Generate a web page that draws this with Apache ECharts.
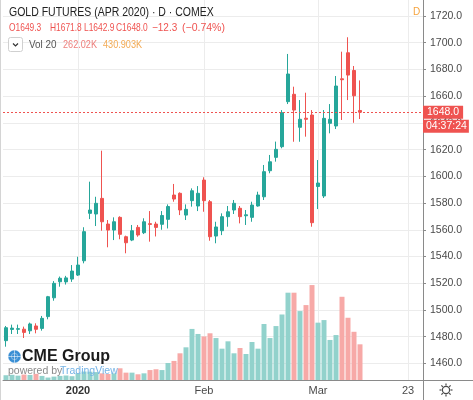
<!DOCTYPE html>
<html>
<head>
<meta charset="utf-8">
<script src="https://cdn.jsdelivr.net/npm/echarts@6/dist/echarts.min.js"></script>
<style>
  html, body { margin: 0; padding: 0; background: #fff; }
  #chart { width: 473px; height: 400px; }
</style>
</head>
<body>
<div id="chart"></div>
<script>
// trading days shown (last 10 are empty future slots)
const dates = [
  '2019-12-13','2019-12-16','2019-12-17','2019-12-18','2019-12-19','2019-12-20','2019-12-23','2019-12-24','2019-12-26','2019-12-27','2019-12-30','2019-12-31',
  '2020-01-02','2020-01-03','2020-01-06','2020-01-07','2020-01-08','2020-01-09','2020-01-10','2020-01-13','2020-01-14','2020-01-15','2020-01-16','2020-01-17',
  '2020-01-21','2020-01-22','2020-01-23','2020-01-24','2020-01-27','2020-01-28','2020-01-29','2020-01-30','2020-01-31',
  '2020-02-03','2020-02-04','2020-02-05','2020-02-06','2020-02-07','2020-02-10','2020-02-11','2020-02-12','2020-02-13','2020-02-14',
  '2020-02-18','2020-02-19','2020-02-20','2020-02-21','2020-02-24','2020-02-25','2020-02-26','2020-02-27','2020-02-28',
  '2020-03-02','2020-03-03','2020-03-04','2020-03-05','2020-03-06','2020-03-09','2020-03-10','2020-03-11',
  '2020-03-12','2020-03-13','2020-03-16','2020-03-17','2020-03-18','2020-03-19','2020-03-20','2020-03-23','2020-03-24','2020-03-25'
];

const open = [
  1477.0,1485.4,1485.5,1485.6,1484.4,1488.0,1486.2,1495.0,1509.1,1521.1,1521.0,1523.1,
  1526.1,1536.8,1572.3,1571.8,1583.5,1564.3,1559.8,1569.3,1554.8,1552.3,1561.8,1557.8,
  1564.6,1564.3,1564.1,1567.8,1586.0,1587.3,1571.0,1581.8,1577.8,
  1597.2,1581.0,1555.3,1559.3,1569.8,1574.8,1576.1,1570.5,1569.3,1577.8,
  1584.7,1604.2,1614.2,1622.2,1655.9,1661.4,1636.7,1643.5,1645.9,
  1592.4,1585.3,1639.7,1637.7,1673.0,1692.5,1679.2,1649.3
];
const high = [
  1488.0,1489.0,1489.0,1487.5,1490.5,1490.0,1495.5,1510.5,1521.6,1525.0,1525.5,1533.6,
  1539.8,1561.9,1596.0,1584.7,1619.2,1567.3,1569.3,1570.1,1555.6,1563.6,1563.6,1568.6,
  1574.0,1566.0,1574.0,1579.0,1594.3,1588.0,1579.0,1591.0,1592.7,
  1599.3,1582.3,1566.0,1572.3,1577.8,1582.3,1577.8,1574.8,1581.0,1588.5,
  1608.5,1616.0,1626.0,1649.6,1691.6,1667.1,1657.1,1662.6,1649.6,
  1612.2,1649.6,1654.1,1675.1,1693.3,1704.1,1682.6,1671.8
];
const low = [
  1472.5,1482.0,1482.0,1479.0,1482.0,1482.5,1484.5,1493.0,1506.9,1517.4,1519.0,1521.0,
  1525.4,1534.9,1568.0,1562.8,1559.3,1546.9,1552.3,1552.9,1542.4,1551.5,1554.8,1556.8,
  1551.1,1555.0,1560.0,1561.0,1581.0,1571.0,1567.3,1577.3,1574.0,
  1573.5,1551.8,1549.9,1556.0,1562.3,1571.8,1564.8,1563.6,1566.0,1577.3,
  1582.3,1602.3,1611.0,1621.0,1654.1,1625.9,1625.9,1629.7,1562.3,
  1575.5,1583.8,1632.2,1635.4,1642.2,1657.1,1640.1,1642.9
];
const close = [
  1486.7,1486.4,1486.0,1483.2,1489.5,1485.5,1493.7,1509.9,1519.9,1523.7,1524.0,1529.1,
  1533.6,1558.6,1574.8,1579.8,1566.0,1559.8,1566.0,1556.6,1550.3,1559.3,1556.1,1566.0,
  1564.0,1561.8,1570.7,1577.4,1583.0,1574.8,1575.3,1589.2,1587.3,
  1581.8,1554.8,1562.1,1569.8,1573.5,1579.8,1569.8,1571.2,1578.5,1586.0,
  1603.5,1610.9,1620.2,1647.6,1676.6,1649.6,1642.7,1642.7,1565.3,
  1595.0,1643.4,1642.7,1667.6,1672.3,1675.8,1660.3,1648.0
];
// volume, thousands of contracts
const volume = [
  35,38,32,40,37,45,30,18,25,30,33,28,
  50,62,61,58,49,44,49,86,54,54,42,49,
  73,79,73,125,140,196,240,375,338,
  320,343,308,230,284,196,235,191,279,230,
  411,308,396,481,641,641,506,550,697,
  421,440,294,330,611,457,354,262
];

const tickDates = ['2020-01-02', '2020-02-03', '2020-03-02', '2020-03-23'];
const tickLabels = ['2020', 'Feb', 'Mar', '23'];
const priceTicks = { min: 1440, max: 1740, step: 20 };

const upColor = '#26a69a';
const downColor = '#ef5350';
const upVol = '#92d2cc';
const downVol = '#f7a9a7';
const gridColor = '#ececec';
const textColor = '#4a4a4a';
const fontFamily = "'Liberation Sans', Arial, sans-serif";

const lastClose = close[close.length - 1];
const isTick = (i, v) => tickDates.indexOf(v) >= 0;

const candleData = close.map((c, i) => [open[i], c, low[i], high[i]]);
const volData = volume.map((v, i) => ({
  value: v,
  itemStyle: { color: close[i] >= open[i] ? upVol : downVol }
}));

const chart = echarts.init(document.getElementById('chart'));
chart.setOption({
  animation: false,
  textStyle: { fontFamily: fontFamily },
  grid: [
    { left: 3, right: 50, top: -10.7, bottom: 9.9, outerBoundsMode: 'none', containLabel: false },
    { left: 3, right: 50, top: 0, bottom: 20, outerBoundsMode: 'none', containLabel: false }
  ],
  xAxis: [
    {
      type: 'category', gridIndex: 0, data: dates, boundaryGap: true,
      show: false
    },
    {
      type: 'category', gridIndex: 1, data: dates, boundaryGap: true,
      axisLine: { lineStyle: { color: '#8a8a8a' } },
      axisTick: { interval: isTick, alignWithLabel: true, length: 4, lineStyle: { color: '#8a8a8a' } },
      axisLabel: {
        interval: isTick, margin: 5, color: textColor, fontSize: 11,
        formatter: v => {
          const k = tickDates.indexOf(v);
          return k === 0 ? '{y|' + tickLabels[k] + '}' : tickLabels[k];
        },
        rich: { y: { fontWeight: 'bold', fontSize: 11, color: '#333' } }
      },
      splitLine: { show: true, interval: isTick, alignWithLabel: true, lineStyle: { color: gridColor } }
    }
  ],
  yAxis: [
    {
      type: 'value', gridIndex: 0, position: 'right',
      min: priceTicks.min, max: priceTicks.max, interval: priceTicks.step,
      axisLine: { show: true, lineStyle: { color: '#8a8a8a' } },
      axisTick: { show: true, length: 3, lineStyle: { color: '#8a8a8a' } },
      axisLabel: {
        margin: 7, color: textColor, fontSize: 10.5,
        showMinLabel: false, showMaxLabel: false,
        formatter: v => v.toFixed(1)
      },
      splitLine: { show: true, showMinLine: false, showMaxLine: false, lineStyle: { color: gridColor } }
    },
    { type: 'value', gridIndex: 1, min: 0, max: 2790, show: false }
  ],
  series: [
    {
      type: 'bar', name: 'Vol', xAxisIndex: 1, yAxisIndex: 1,
      barWidth: 5, data: volData, silent: true
    },
    {
      type: 'candlestick', name: 'GC', xAxisIndex: 0, yAxisIndex: 0,
      barWidth: 4, data: candleData, silent: true,
      itemStyle: {
        color: upColor, color0: downColor,
        borderColor: upColor, borderColor0: downColor, borderWidth: 1
      },
      markLine: {
        silent: true, symbol: ['none', 'none'],
        label: { show: false },
        lineStyle: { color: downColor, type: [2, 2], width: 1, opacity: 1 },
        emphasis: { disabled: true },
        data: [{ yAxis: lastClose, lineStyle: { color: downColor } }]
      }
    }
  ]
});

// last price tags on the price scale
const yLast = chart.convertToPixel({ yAxisIndex: 0 }, lastClose);

const font = (size, weight) => (weight || 'normal') + ' ' + size + 'px ' + fontFamily;
const label = (x, y, text, size, fill, sx, weight) => ({
  type: 'text', z: 50, x: x, y: y, scaleX: sx || 1,
  style: { text: text, font: font(size, weight), fill: fill, textVerticalAlign: 'middle' }
});

const graphics = [
  { type: 'line', z: 50, shape: { x1: 0.5, y1: 0, x2: 0.5, y2: 400 }, style: { stroke: '#d4d4d4' } },
  { type: 'line', z: 50, shape: { x1: 423.5, y1: 380, x2: 423.5, y2: 400 }, style: { stroke: '#8a8a8a' } },
  { type: 'line', z: 50, shape: { x1: 423, y1: 380.5, x2: 473, y2: 380.5 }, style: { stroke: '#8a8a8a' } },
  { type: 'circle', z: 50, shape: { cx: 446, cy: 390, r: 3.6 }, style: { fill: 'none', stroke: '#4a4a4a', lineWidth: 1.2 } },

  // header
  label(9, 12.5, 'GOLD FUTURES (APR 2020) · D · COMEX', 12.5, '#222', 0.84),
  label(9, 28, 'O1649.3', 10.5, downColor, 0.8),
  label(50, 28, 'H1671.8', 10.5, downColor, 0.8),
  label(84, 28, 'L1642.9', 10.5, downColor, 0.8),
  label(116, 28, 'C1648.0', 10.5, downColor, 0.8),
  label(152, 28, '−12.3', 10.5, downColor, 0.95),
  label(182, 28, '(−0.74%)', 10.5, downColor, 1.0),
  { type: 'rect', z: 50, shape: { x: 8.5, y: 37.5, width: 14, height: 14, r: 2 }, style: { fill: '#fff', stroke: '#d0d0d0' } },
  { type: 'polyline', z: 51, shape: { points: [[13, 43.5], [15.5, 46], [18, 43.5]] }, style: { fill: 'none', stroke: '#333', lineWidth: 1.2 } },
  label(29, 45, 'Vol 20', 11, '#555', 0.9),
  label(63, 45, '262.02K', 10.5, '#ee7f7c', 0.87),
  label(103, 45, '430.903K', 10.5, '#f3ab55', 0.87),
  label(413, 12, 'D', 10, '#f6a33c'),

  // last price / countdown tags
  { type: 'text', z: 60, x: 423, y: yLast, style: { text: lastClose.toFixed(1), font: font(10.5), fill: '#fff', backgroundColor: downColor, padding: [1, 4, 1, 4], textVerticalAlign: 'middle' } },
  { type: 'text', z: 60, x: 423, y: yLast + 14, style: { text: '04:37:24', font: font(10.5), fill: '#fff', backgroundColor: downColor, padding: [1, 2, 1, 3], textVerticalAlign: 'middle' } },

  // watermark logo
  { type: 'circle', z: 50, shape: { cx: 14.5, cy: 356.5, r: 6.5 }, style: { fill: '#3a8fd4' } },
  { type: 'line', z: 51, shape: { x1: 8, y1: 356.5, x2: 21, y2: 356.5 }, style: { stroke: 'rgba(255,255,255,0.7)', lineWidth: 0.8 } },
  { type: 'line', z: 51, shape: { x1: 14.5, y1: 350, x2: 14.5, y2: 363 }, style: { stroke: 'rgba(255,255,255,0.7)', lineWidth: 0.8 } },
  { type: 'ring', z: 51, shape: { cx: 14.5, cy: 356.5, r: 6.5, r0: 3.2 }, style: { fill: 'none', stroke: 'rgba(255,255,255,0.6)', lineWidth: 0.6 } },
  label(22, 357, 'CME Group', 16, '#1b1b1b', 1, 'bold'),
  label(8, 371, 'powered by', 10.5, '#8a8a8a'),
  label(60, 371, 'TradingView', 10.5, '#74b3e6')
];

// gear icon spokes
for (let k = 0; k < 8; k++) {
  const a = k * Math.PI / 4;
  graphics.push({
    type: 'line', z: 50,
    shape: { x1: 446 + 4.5 * Math.cos(a), y1: 390 + 4.5 * Math.sin(a), x2: 446 + 6.5 * Math.cos(a), y2: 390 + 6.5 * Math.sin(a) },
    style: { stroke: '#4a4a4a', lineWidth: 1.2 }
  });
}

chart.setOption({ graphic: graphics });
</script>
</body>
</html>
